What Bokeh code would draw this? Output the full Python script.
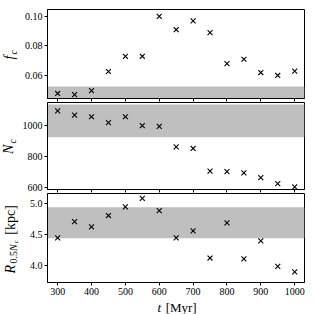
import math
from bokeh.plotting import figure
from bokeh.layouts import gridplot
from bokeh.models import FixedTicker, PrintfTickFormatter, BoxAnnotation, Range1d
from bokeh.core.properties import value
from bokeh.embed import file_html
from bokeh.resources import INLINE

# ---- data ----
t_myr = [300, 350, 400, 450, 500, 550, 600, 650, 700, 750, 800, 850, 900, 950, 1000]
f_c = [0.0478, 0.0470, 0.0497, 0.0627, 0.0729, 0.0730, 0.1000, 0.0910, 0.0970,
       0.0890, 0.0680, 0.0710, 0.0620, 0.0600, 0.0630]
n_c = [1095, 1067, 1057, 1019, 1057, 1000, 995, 862, 852, 706, 702, 694, 664, 625, 604]
r_half = [4.445, 4.71, 4.625, 4.81, 4.95, 5.09, 4.89, 4.445, 4.56, 4.115, 4.69,
          4.10, 4.395, 3.98, 3.89]
f_band = [0.040, 0.0525]
n_band = [924, 1136]
r_band = [4.44, 4.945]
x_ticks = [300, 400, 500, 600, 700, 800, 900, 1000]
f_ticks = [0.06, 0.08, 0.10]
n_ticks = [600, 800, 1000]
r_ticks = [4.0, 4.5, 5.0]

FONT = "Liberation Serif"
X_RANGE = (270, 1029)
F_RANGE = (0.0444, 0.1047)
N_RANGE = (587, 1149)
R_RANGE = (3.715, 5.17)

LEFT_W = 19          # strip holding the y-axis titles
BORDER_L = 28        # room for y tick labels
FRAME_W = 257
BORDER_R = 2
# (border top, frame height, border bottom) of the three panels
P1 = (9, 89, 4)
P2 = (0, 87, 4)
P3 = (0, 89, 17)
XLAB_H = 15
MID = 0.3375         # baseline-to-middle offset of the font, in em

W_IT = {'f': 0.28, 'c': 0.44, 'N': 0.67, 'R': 0.61, 't': 0.28}
W_RM = {'0': 0.5, '.': 0.25, '5': 0.5, '[': 0.333, 'k': 0.5, 'p': 0.5, 'c': 0.444,
        ']': 0.333, 'M': 0.889, 'y': 0.5, 'r': 0.333}


def advance(text, size, italic):
    table = W_IT if italic else W_RM
    return sum(table.get(ch, 0.5) for ch in text) * size + (1.0 if italic else 0.0)


def make_fig(y_range, geom, ticks, fmt, show_x_labels):
    top, fh, bot = geom
    p = figure(frame_width=FRAME_W, frame_height=fh,
               x_range=Range1d(*X_RANGE), y_range=Range1d(*y_range),
               output_backend="svg", toolbar_location=None,
               min_border_left=BORDER_L, min_border_right=BORDER_R,
               min_border_top=top, min_border_bottom=bot)
    p.grid.visible = False
    p.outline_line_color = "black"
    p.outline_line_alpha = 1.0
    p.outline_line_width = 1
    p.background_fill_color = "white"
    for ax in (p.xaxis[0], p.yaxis[0]):
        ax.axis_line_color = "black"
        ax.major_tick_line_color = "black"
        ax.major_tick_in = 0
        ax.major_tick_out = 3
        ax.minor_tick_line_color = None
        ax.major_label_text_font = FONT
        ax.major_label_text_font_size = "10px"
        ax.major_label_text_color = "black"
        ax.major_label_standoff = 2
        ax.axis_label = None
    p.xaxis[0].ticker = FixedTicker(ticks=x_ticks)
    p.yaxis[0].ticker = FixedTicker(ticks=ticks)
    p.yaxis[0].formatter = PrintfTickFormatter(format=fmt)
    if not show_x_labels:
        p.xaxis[0].major_label_text_color = None
        p.xaxis[0].major_label_text_font_size = "1px"
        p.xaxis[0].major_label_standoff = 0
    return p


def text_strip(fw, fh, left=0, right=0, top=0, bottom=0):
    p = figure(frame_width=fw, frame_height=fh, x_range=Range1d(0, fw),
               y_range=Range1d(fh, 0), output_backend="svg",
               toolbar_location=None, title=None,
               min_border_left=left, min_border_right=right,
               min_border_top=top, min_border_bottom=bottom,
               x_axis_location=None, y_axis_location=None)
    p.grid.visible = False
    p.outline_line_color = None
    p.background_fill_color = None
    p.border_fill_color = None
    return p


def put(p, pieces, base_x, base_y, rotated):
    """Place text pieces; (base_x, base_y) is the baseline start in pixels."""
    pos = 0.0
    for text, size, italic, shift, gap in pieces:
        pos += gap
        if rotated:
            sx = base_x + shift - MID * size
            sy = base_y - pos
            ang = math.pi / 2
        else:
            sx = base_x + pos
            sy = base_y + shift - MID * size
            ang = 0.0
        p.text(x=[sx], y=[sy], text=[text], angle=ang,
               text_font=value(FONT), text_font_size=value(f"{size}px"),
               text_font_style=value("italic" if italic else "normal"),
               text_align="left", text_baseline="middle", text_color="black")
        pos += advance(text, size, italic)


p1 = make_fig(F_RANGE, P1, f_ticks, "%.2f", False)
p2 = make_fig(N_RANGE, P2, n_ticks, "%d", False)
p3 = make_fig(R_RANGE, P3, r_ticks, "%.1f", True)
p2.x_range = p1.x_range
p3.x_range = p1.x_range

for p, vals, band in ((p1, f_c, f_band), (p2, n_c, n_band), (p3, r_half, r_band)):
    p.add_layout(BoxAnnotation(bottom=band[0], top=band[1], fill_color="#bfbfbf",
                               fill_alpha=1.0, line_color=None, level="underlay"))
    p.scatter(t_myr, vals, marker="x", size=7, line_color="black", line_width=1.1)

# y-axis titles: one strip per panel, coordinates in pixels from the frame top
l1 = text_strip(LEFT_W, P1[1], top=P1[0], bottom=P1[2])
l2 = text_strip(LEFT_W, P2[1], top=P2[0], bottom=P2[2])
l3 = text_strip(LEFT_W, P3[1], top=P3[0], bottom=P3[2])
put(l1, [("f", 14, True, 0, 0), ("c", 10, True, 2.5, 0)], 14, 50, True)
put(l2, [("N", 14, True, 0, 0), ("c", 10, True, 2.5, 0)], 13, 51.5, True)
put(l3, [("R", 14, True, 0, 0), ("0.5", 10, False, 2.3, 0.5), ("N", 10, True, 2.3, 0),
         ("c", 7, True, 3.0, 0), ("[kpc]", 14, False, 0, 4.5)], 14.5, 80, True)

# x-axis title under the panels
xb = text_strip(FRAME_W, XLAB_H, left=BORDER_L, right=BORDER_R)
put(xb, [("t", 13, True, 0, 0), ("[Myr]", 13, False, 0, 3.5)], 110, 12, False)

grid = gridplot([[l1, p1], [l2, p2], [l3, p3], [None, xb]], toolbar_location=None)
open("out.html", "w").write(file_html(grid, INLINE))
